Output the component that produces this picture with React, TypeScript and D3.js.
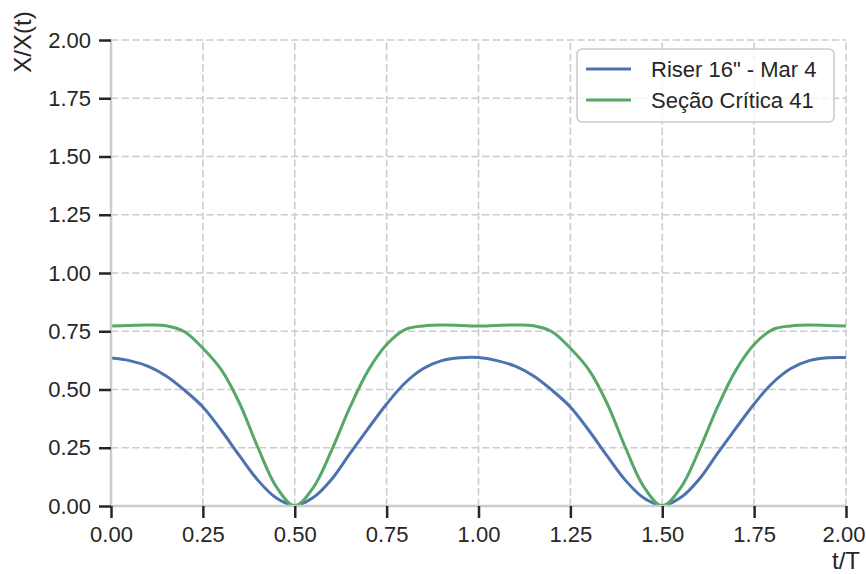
import React, { useEffect, useRef } from 'react';
import * as d3 from 'd3';

// t/T sample points
const tValues = [
  0, 0.05, 0.1, 0.15, 0.2, 0.25, 0.3, 0.35, 0.4, 0.45, 0.5,
  0.55, 0.6, 0.65, 0.7, 0.75, 0.8, 0.85, 0.9, 0.95, 1.0,
  1.05, 1.1, 1.15, 1.2, 1.25, 1.3, 1.35, 1.4, 1.45, 1.5,
  1.55, 1.6, 1.65, 1.7, 1.75, 1.8, 1.85, 1.9, 1.95, 2.0,
];

// Riser 16" - Mar 4
const riserValues = [
  0.635, 0.624, 0.6, 0.558, 0.497, 0.425, 0.325, 0.215, 0.11, 0.034, 0.002,
  0.036, 0.114, 0.225, 0.333, 0.438, 0.528, 0.59, 0.624, 0.636, 0.637,
  0.624, 0.6, 0.558, 0.497, 0.425, 0.325, 0.215, 0.11, 0.034, 0.002,
  0.036, 0.114, 0.225, 0.333, 0.438, 0.528, 0.59, 0.624, 0.636, 0.637,
];

// Seção Crítica 41
const secaoValues = [
  0.772, 0.775, 0.777, 0.774, 0.748, 0.677, 0.585, 0.44, 0.25, 0.082, 0.0,
  0.078, 0.238, 0.423, 0.582, 0.693, 0.757, 0.773, 0.777, 0.775, 0.772,
  0.775, 0.777, 0.774, 0.748, 0.677, 0.585, 0.44, 0.25, 0.082, 0.0,
  0.078, 0.238, 0.423, 0.582, 0.693, 0.757, 0.773, 0.777, 0.775, 0.772,
];

const xTicks = [0, 0.25, 0.5, 0.75, 1.0, 1.25, 1.5, 1.75, 2.0];
const yTicks = [0, 0.25, 0.5, 0.75, 1.0, 1.25, 1.5, 1.75, 2.0];

const seriesNames = ['Riser 16" - Mar 4', 'Seção Crítica 41'];
const seriesColors = ['#4c72b0', '#55a868'];

const FONT = '"Liberation Sans", Arial, sans-serif';

export default function App() {
  const containerRef = useRef<HTMLDivElement>(null);

  useEffect(() => {
    const el = containerRef.current;
    if (!el) return;
    document.body.style.margin = '0';
    while (el.firstChild) el.removeChild(el.firstChild);

    const W = 866;
    const H = 574;
    const x = d3.scaleLinear().domain([0, 2]).range([111, 846]);
    const y = d3.scaleLinear().domain([0, 2]).range([506, 40]);
    const [x0, x1] = x.range();
    const [y0, y1] = y.range();

    const svg = d3
      .create('svg')
      .attr('width', W)
      .attr('height', H)
      .attr('viewBox', [0, 0, W, H])
      .style('display', 'block')
      .style('background', '#fff')
      .style('font-family', FONT);

    // clip to axes box, like matplotlib
    svg
      .append('defs')
      .append('clipPath')
      .attr('id', 'plot-clip')
      .append('rect')
      .attr('x', x0)
      .attr('y', y1)
      .attr('width', x1 - x0)
      .attr('height', y0 - y1);

    // dashed grid
    const grid = svg.append('g').attr('stroke', '#cccccc').attr('stroke-width', 1.6).attr('stroke-dasharray', '7.4,3.2');
    grid
      .selectAll('line.gx')
      .data(xTicks)
      .join('line')
      .attr('class', 'gx')
      .attr('x1', (d) => x(d))
      .attr('x2', (d) => x(d))
      .attr('y1', y0)
      .attr('y2', y1);
    grid
      .selectAll('line.gy')
      .data(yTicks)
      .join('line')
      .attr('class', 'gy')
      .attr('y1', (d) => y(d))
      .attr('y2', (d) => y(d))
      .attr('x1', x0)
      .attr('x2', x1);

    // curves
    const line = d3
      .line<number>()
      .x((_, i) => x(tValues[i]))
      .y((d) => y(d))
      .curve(d3.curveCatmullRom.alpha(0.5));

    const plot = svg.append('g').attr('clip-path', 'url(#plot-clip)');
    [riserValues, secaoValues].forEach((vals, i) => {
      plot
        .append('path')
        .datum(vals)
        .attr('fill', 'none')
        .attr('stroke', seriesColors[i])
        .attr('stroke-width', 3)
        .attr('stroke-linejoin', 'round')
        .attr('d', line);
    });

    // spines (left + bottom only)
    svg
      .append('path')
      .attr('d', `M${x0},${y1}V${y0}H${x1}`)
      .attr('fill', 'none')
      .attr('stroke', '#cccccc')
      .attr('stroke-width', 2.5);

    // axes
    const fmt = d3.format('.2f');
    const xAxis = svg
      .append('g')
      .attr('transform', `translate(0,${y0})`)
      .call(d3.axisBottom(x).tickValues(xTicks).tickFormat((d) => fmt(d as number)).tickSize(12).tickPadding(8));
    const yAxis = svg
      .append('g')
      .attr('transform', `translate(${x0},0)`)
      .call(d3.axisLeft(y).tickValues(yTicks).tickFormat((d) => fmt(d as number)).tickSize(12).tickPadding(8));

    [xAxis, yAxis].forEach((ax) => {
      ax.select('.domain').remove();
      ax.selectAll('.tick line').attr('stroke', '#262626').attr('stroke-width', 2.5);
      ax.selectAll('.tick text')
        .attr('fill', '#262626')
        .style('font-family', FONT)
        .style('font-size', '22px');
    });
    xAxis.selectAll('.tick text').attr('dy', '0.72em');
    // keep the last label inside the picture
    xAxis
      .selectAll<SVGTextElement, number>('.tick text')
      .filter((d) => d === xTicks[xTicks.length - 1])
      .attr('dx', -2.5);

    // axis labels
    svg
      .append('text')
      .attr('x', x1)
      .attr('y', 569)
      .attr('text-anchor', 'middle')
      .attr('fill', '#262626')
      .style('font-size', '24px')
      .text('t/T');

    svg
      .append('text')
      .attr('transform', `translate(31,42) rotate(-90)`)
      .attr('text-anchor', 'middle')
      .attr('fill', '#262626')
      .style('font-size', '24px')
      .text('X/X(t)');

    // legend
    const lg = svg.append('g');
    lg.append('rect')
      .attr('x', 577)
      .attr('y', 49)
      .attr('width', 257)
      .attr('height', 73)
      .attr('rx', 5)
      .attr('fill', 'rgba(255,255,255,0.8)')
      .attr('stroke', '#cccccc')
      .attr('stroke-width', 1.6);

    seriesNames.forEach((name, i) => {
      const ry = 69 + i * 31;
      lg.append('line')
        .attr('x1', 586)
        .attr('x2', 631)
        .attr('y1', ry)
        .attr('y2', ry)
        .attr('stroke', seriesColors[i])
        .attr('stroke-width', 3);
      lg.append('text')
        .attr('x', 651)
        .attr('y', ry)
        .attr('dy', '0.36em')
        .attr('fill', '#262626')
        .style('font-size', '22px')
        .text(name);
    });

    el.appendChild(svg.node() as SVGSVGElement);
  }, []);

  return <div ref={containerRef} aria-label="X/X(t) vs t/T chart" style={{ width: 866, height: 574 }} />;
}
